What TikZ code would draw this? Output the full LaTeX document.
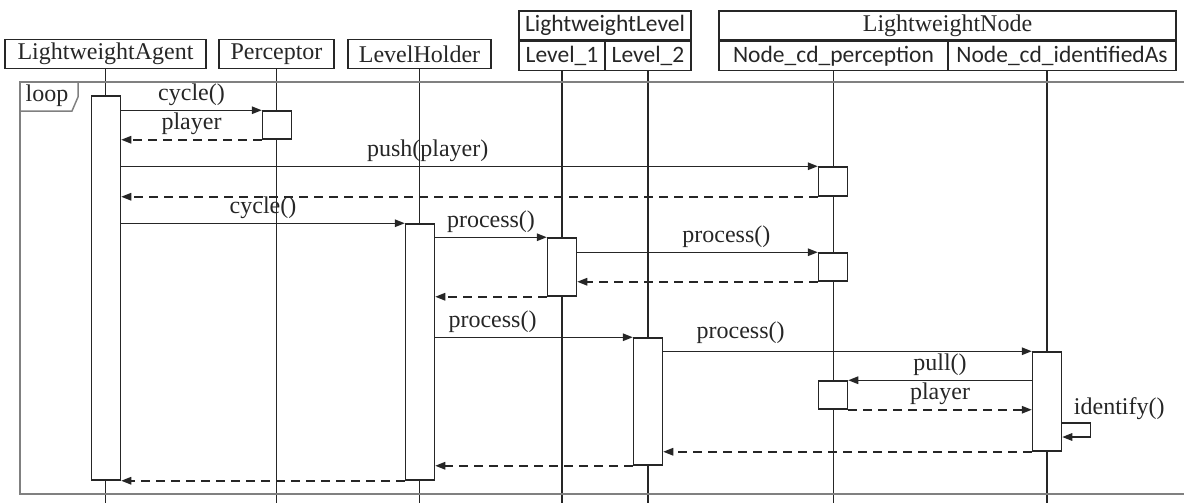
\documentclass[tikz,border=0pt]{standalone}
\usepackage{fontspec}
\setmainfont{Liberation Serif}
\newfontfamily\carlito{Carlito}
\usepackage{tikz}
\usetikzlibrary{arrows.meta,positioning}

\begin{document}
\begin{tikzpicture}[x=1pt, y=-1pt, line width=1.5pt, color=black!85,
      font=\fontsize{24}{28}\selectfont,
      head/.style={draw,minimum height=29pt,inner sep=0pt},
      shead/.style={head,font=\fontsize{23.5}{28}\selectfont\carlito},
      life/.style={line width=1.4pt},
      act/.style={draw,fill=white,minimum width=29pt,inner sep=0pt},
      msg/.style={-{Triangle[length=10pt,width=7.5pt]}},
      ret/.style={msg,dash pattern=on 9pt off 6pt},
      lbl/.style={above,inner sep=4pt},
      frame/.style={black!50},
      ]
      \useasboundingbox (0,0) rectangle (1184,503);
      \coordinate (bot) at (0,503);

      % heads
      \node (agent) [head, minimum width=201pt] at (105.5,54) {LightweightAgent};
      \node (perc) [head, minimum width=115pt] at (276.5,54) {Perceptor};
      \node (holder) [head, minimum width=143pt] at (419.5,54) {LevelHolder};
      \node (lvl) [shead, minimum width=172pt] at (605,25.5) {LightweightLevel};
      \node (lvlA) [shead, minimum width=86pt, anchor=north west] at (lvl.south west) {Level\_1};
      \node (lvlB) [shead, minimum width=86pt, anchor=north east] at (lvl.south east) {Level\_2};
      \node (lwn) [head, minimum width=457pt] at (947.5,25.5) {LightweightNode};
      \node (ndP) [shead, minimum width=229pt, anchor=north west] at (lwn.south west) {Node\_cd\_perception};
      \node (ndI) [shead, minimum width=228pt, anchor=north east] at (lwn.south east) {Node\_cd\_identifiedAs};

      \foreach \n in {agent,perc,holder,lvlA,lvlB,ndP}
        \draw [life] (\n.south) -- (\n.south |- bot);
      \draw [life] ([xshift=-15pt]ndI.south) -- ([xshift=-15pt]ndI.south |- bot);

      % loop frame
      \draw [frame] (1184,82) -| (20,494) -- (1184,494);
      \draw [frame] (20,111) -- (72,111) -- (78,97) -- (78,82);
      \node (loop) at (47,96) {loop};

      % activations
      \node (aAgent) [act, minimum height=384pt] at (106,288) {};
      \node (aPerc) [act, minimum height=28pt] at (277,125) {};
      \node (aPN1) [act, minimum height=29pt] at (833,181.5) {};
      \node (aHolder) [act, minimum height=256pt] at (420,352) {};
      \node (aL1) [act, minimum height=58pt] at (562,267) {};
      \node (aPN2) [act, minimum height=28pt] at (833,267) {};
      \node (aL2) [act, minimum height=127pt] at (648,401.5) {};
      \node (aIdent) [act, minimum height=99pt] at (1047,401.5) {};
      \node (aPN3) [act, minimum height=28pt] at (833,395) {};

      \draw [msg] (aAgent.east |- aPerc.north) to node [lbl] {cycle()} (aPerc.north west);
      \draw [ret] (aPerc.south west) to node [lbl] {player} (aAgent.east |- aPerc.south);
      \draw [msg] (aAgent.east |- aPN1.north) to node [lbl, pos=.44] {push(player)} (aPN1.north west);
      \draw [ret] (aPN1.south west) to (aAgent.east |- aPN1.south);
      \draw [msg] (aAgent.east |- aHolder.north) to node [lbl] {cycle()} (aHolder.north west);
      \draw [msg] (aHolder.east |- aL1.north) to node [lbl] {process()} (aL1.north west);
      \draw [msg] (aL1.east |- aPN2.north) to node [lbl, pos=.62] {process()} (aPN2.north west);
      \draw [ret] (aPN2.south west) to (aL1.east |- aPN2.south);
      \draw [ret] (aL1.south west) to (aHolder.east |- aL1.south);
      \draw [msg] (aHolder.east |- aL2.north) to node [lbl, pos=.29] {process()} (aL2.north west);
      \draw [msg] (aL2.east |- aIdent.north) to node [lbl, pos=.21, inner sep=7pt] {process()} (aIdent.north west);
      \draw [msg] (aIdent.west |- aPN3.north) to node [lbl] {pull()} (aPN3.north east);
      \draw [ret] (aPN3.south east) to node [lbl] {player} (aIdent.west |- aPN3.south);
      \draw [msg] ([yshift=-21.5pt]aIdent.east) -- ++(28,0)
        node [lbl, xshift=29pt, inner sep=3pt] {identify()} |- ([yshift=-35.5pt]aIdent.east);
      \draw [ret] (aIdent.south west) to (aL2.east |- aIdent.south);
      \draw [ret] (aL2.south west) to (aHolder.east |- aL2.south);
      \draw [ret] (aHolder.south west) to (aAgent.east |- aHolder.south);
    \end{tikzpicture}
\end{document}
